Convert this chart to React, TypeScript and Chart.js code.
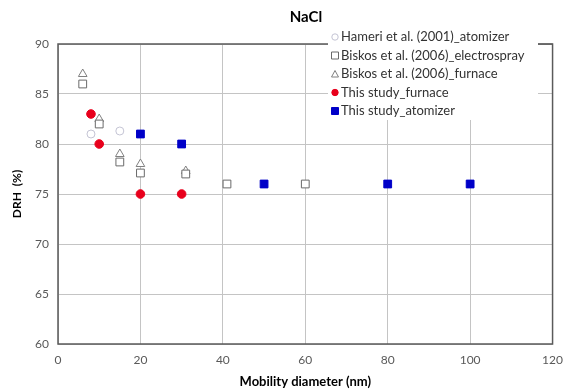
import React, { useEffect, useRef } from "react";
import { Chart, registerables } from "chart.js";

Chart.register(...registerables);

const titleText = "NaCl";
const xTitle = "Mobility diameter (nm)";
const yTitle = "DRH  (%)";

const seriesNames = [
  "Hameri et al. (2001)_atomizer",
  "Biskos et al. (2006)_electrospray",
  "Biskos et al. (2006)_furnace",
  "This study_furnace",
  "This study_atomizer",
];

const hameriX = [8, 15];
const hameriY = [81, 81.3];

const electroX = [6, 10, 15, 20, 31, 41, 60];
const electroY = [86, 82, 78.2, 77.1, 77, 76, 76];

const furnaceBX = [6, 10, 15, 20, 31];
const furnaceBY = [87, 82.5, 79, 78, 77.3];

const studyFurnaceX = [8, 10, 20, 30];
const studyFurnaceY = [83, 80, 75, 75];

const studyAtomX = [20, 30, 50, 80, 100];
const studyAtomY = [81, 80, 76, 76, 76];

const xTicks = [0, 20, 40, 60, 80, 100, 120];
const yTicks = [60, 65, 70, 75, 80, 85, 90];

const FONT = "Lato, 'Open Sans', sans-serif";

const toPts = (xs: number[], ys: number[]) => xs.map((x, i) => ({ x, y: ys[i] }));

export default function App() {
  const ref = useRef<HTMLCanvasElement | null>(null);
  useEffect(() => {
    if (!ref.current) return;
    const styles = [
      { style: "circle", r: 4, fill: "#ffffff", stroke: "#c4c4d4" },
      { style: "rect", r: 5.5, fill: "#ffffff", stroke: "#6a6a6a" },
      { style: "triangle", r: 5, fill: "#ffffff", stroke: "#808080" },
      { style: "circle", r: 4.3, fill: "#e8001c", stroke: "#e8001c" },
      { style: "rect", r: 5.5, fill: "#0000c8", stroke: "#0000c8" },
    ];
    const seriesData = [
      toPts(hameriX, hameriY),
      toPts(electroX, electroY),
      toPts(furnaceBX, furnaceBY),
      toPts(studyFurnaceX, studyFurnaceY),
      toPts(studyAtomX, studyAtomY),
    ];
    const drawOrder = [0, 2, 1, 3, 4];
    const datasets = drawOrder.map((si, k) => ({
      label: seriesNames[si],
      data: seriesData[si],
      pointStyle: styles[si].style as any,
      pointRadius: styles[si].r,
      pointBackgroundColor: styles[si].fill,
      pointBorderColor: styles[si].stroke,
      pointBorderWidth: 1,
      showLine: false,
      order: 5 - k,
    }));

    const framePlugin = {
      id: "frame",
      afterDraw(chart: any) {
        const { ctx, chartArea: a } = chart;
        ctx.save();
        ctx.fillStyle = "#000";
        ctx.font = `bold 15px ${FONT}`;
        ctx.textAlign = "center";
        ctx.textBaseline = "middle";
        ctx.fillText(titleText, 306, 17);
        ctx.strokeStyle = "#5a5a5a";
        ctx.lineWidth = 1.5;
        ctx.strokeRect(a.left, a.top, a.right - a.left, a.bottom - a.top);
        // legend
        ctx.fillStyle = "#ffffff";
        ctx.fillRect(328, 27, 210, 93);
        ctx.strokeStyle = "#5a5a5a";
        ctx.lineWidth = 1;
        ctx.beginPath();
        ctx.moveTo(538, a.top);
        ctx.lineTo(a.right, a.top);
        ctx.stroke();
        ctx.font = `13px ${FONT}`;
        ctx.textAlign = "left";
        ctx.textBaseline = "middle";
        const ys = [37, 55.5, 74, 92.5, 111];
        const mx = 335;
        seriesNames.forEach((name, i) => {
          const s = styles[i];
          const y = ys[i];
          ctx.fillStyle = s.fill;
          ctx.strokeStyle = s.stroke;
          ctx.lineWidth = 1;
          ctx.beginPath();
          if (s.style === "circle") {
            ctx.arc(mx, y, 3.2, 0, Math.PI * 2);
          } else if (s.style === "rect") {
            ctx.rect(mx - 3.5, y - 3.5, 7, 7);
          } else {
            ctx.moveTo(mx, y - 3.5);
            ctx.lineTo(mx + 3.5, y + 3);
            ctx.lineTo(mx - 3.5, y + 3);
            ctx.closePath();
          }
          ctx.fill();
          ctx.stroke();
          ctx.fillStyle = "#333";
          ctx.fillText(name, 341, y);
        });
        ctx.restore();
      },
    };

    const chart = new Chart(ref.current, {
      type: "scatter",
      data: { datasets: datasets as any },
      plugins: [framePlugin],
      options: {
        animation: false,
        responsive: false,
        maintainAspectRatio: false,
        layout: { padding: { top: 44, right: 11, left: 0, bottom: 0 } },
        plugins: { legend: { display: false }, title: { display: false }, tooltip: { enabled: false } },
        scales: {
          x: {
            type: "linear",
            min: 0,
            max: 120,
            afterBuildTicks: (s: any) => { s.ticks = xTicks.map((v) => ({ value: v })); },
            afterFit: (s: any) => { s.height = 48; },
            grid: { color: "#c4c4c4", drawTicks: false, lineWidth: 1 },
            border: { display: false },
            ticks: { color: "#595959", font: { family: FONT, size: 12 }, padding: 9 },
            title: { display: true, text: xTitle, color: "#000", font: { family: FONT, size: 13, weight: "bold" }, padding: { top: 0, bottom: 2 } },
          },
          y: {
            type: "linear",
            min: 60,
            max: 90,
            afterBuildTicks: (s: any) => { s.ticks = yTicks.map((v) => ({ value: v })); },
            afterFit: (s: any) => { s.width = 58; },
            grid: { color: "#c4c4c4", drawTicks: false, lineWidth: 1 },
            border: { display: false },
            ticks: { color: "#595959", font: { family: FONT, size: 12 }, padding: 9 },
            title: { display: true, text: yTitle, color: "#000", font: { family: FONT, size: 12, weight: "bold" }, padding: { top: 10, bottom: 0 } },
          },
        },
      } as any,
    });
    return () => chart.destroy();
  }, []);
  return (
    <div style={{ position: "absolute", left: 0, top: 0, width: 572, height: 392, background: "#fff" }}>
      <canvas ref={ref} width={572} height={392} style={{ width: 572, height: 392 }} />
    </div>
  );
}
